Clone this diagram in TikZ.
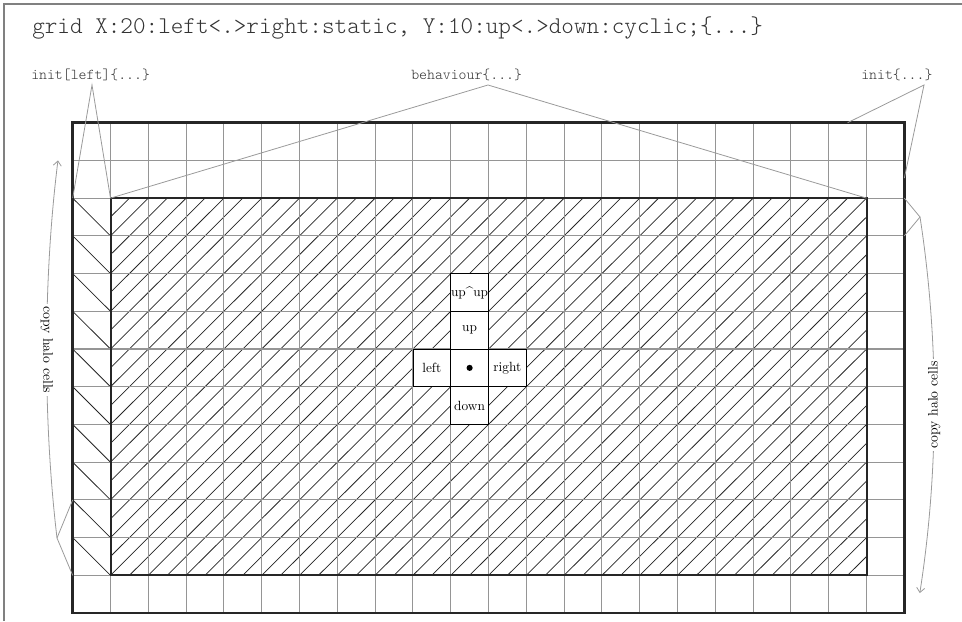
\documentclass[tikz,border=0pt]{standalone}
\usepackage{fontspec}
\newfontfamily\lightmono{Latin Modern Mono Light}
\usetikzlibrary{arrows.meta}
\definecolor{gridgray}{HTML}{959595}
\definecolor{annotgray}{HTML}{9A9A9A}
\definecolor{framegray}{HTML}{808080}
\definecolor{textgray}{HTML}{333333}
\begin{document}
\begin{tikzpicture}[x=0.75pt,y=-0.75pt,
  framestyle/.style={draw=framegray, line width=1.3pt},
  gridline/.style={draw=gridgray, line width=0.85pt},
  hatchline/.style={draw=black!85, line width=0.55pt},
  diagline/.style={draw=black!85, line width=0.6pt},
  outerborder/.style={draw=black!85, line width=1.9pt},
  innerborder/.style={draw=black!85, line width=1.5pt},
  annot/.style={draw=annotgray, line width=0.6pt},
  annotarrow/.style={annot, -{Straight Barb[length=3.5pt,width=6pt]}},
  stencilcell/.style={draw=black, line width=0.6pt, fill=white, inner sep=0pt,
    minimum width=28.35pt, minimum height=28.29pt, font=\fontsize{10}{12}\selectfont},
  copylabel/.style={fill=white, inner sep=2pt, font=\fontsize{10.3}{12}\selectfont},
  smalllabel/.style={anchor=base west, inner sep=0pt, text=textgray, font=\lightmono\fontsize{11.3}{13}\selectfont},
]
\useasboundingbox (0,0) rectangle (962,621);
% page frame
\coordinate (fbl) at (4,621);
\coordinate (ftl) at (4,4);
\coordinate (ftr) at (962,4);
\draw[framestyle] (fbl) -- (ftl) -- (ftr);
% title and labels
\node[anchor=base west, inner sep=0pt, text=textgray, font=\lightmono\fontsize{18}{20}\selectfont] (title) at (32,33)
  {grid X:20:left<.>right:static, Y:10:up<.>down:cyclic;\{...\}};
\node[smalllabel] (initleft) at (31,79) {init[left]\{...\}};
\node[smalllabel] (behav) at (411,79) {behaviour\{...\}};
\node[smalllabel] (initr) at (861,79) {init\{...\}};
% apex points
\coordinate (a1) at (92,85);
\coordinate (a2) at (488,85);
\coordinate (a3) at (924,85);
\coordinate (b1) at (57,538);
\coordinate (b2) at (920,217);
% grid
\begin{scope}[shift={(72.7,122.7)}, x=28.35pt, y=-28.29pt]
  \begin{scope}
    \clip (1,2) rectangle (21,12);
    \foreach \s in {3,3.5,...,33} \draw[hatchline] (\s-12,12) -- (\s-2,2);
  \end{scope}
  \foreach \r in {2,...,11} \draw[diagline] (0,\r) -- (1,\r+1);
  \foreach \c in {1,...,21} \draw[gridline] (\c,0) -- (\c,13);
  \foreach \r in {1,...,12} \draw[gridline] (0,\r) -- (22,\r);
  \node[stencilcell] (upup) at (10.5,4.5) {up\textasciicircum up};
  \node[stencilcell] (up) at (10.5,5.5) {up};
  \node[stencilcell] (left) at (9.5,6.5) {left};
  \node[stencilcell] (center) at (10.5,6.5) {};
  \node[stencilcell] (right) at (11.5,6.5) {right};
  \node[stencilcell] (down) at (10.5,7.5) {down};
  \fill[black] (center.center) circle (2.3pt);
  \draw[outerborder] (0,0) rectangle (22,13);
  \draw[innerborder] (1,2) rectangle (21,12);
  \coordinate (p02) at (0,2);
  \coordinate (p12) at (1,2);
  \coordinate (p212) at (21,2);
  \coordinate (p222) at (22,2);
  \coordinate (p223) at (22,3);
  \coordinate (p010) at (0,10);
  \coordinate (p012) at (0,12);
  \coordinate (pi1) at (20.5,0);
  \coordinate (pi2) at (22,1.47);
  \coordinate (tipL) at (-0.39,1.0);
  \coordinate (tipR) at (22.41,12.47);
\end{scope}
% annotation lines
\draw[annot] (p02) -- (a1) -- (p12);
\draw[annot] (p12) -- (a2) -- (p212);
\draw[annot] (pi1) -- (a3) -- (pi2);
\draw[annot] (p010) -- (b1) -- (p012);
\draw[annot] (p222) -- (b2) -- (p223);
\draw[annotarrow] (b1) .. controls (43,420) and (43,280) .. (tipL)
  node[copylabel, pos=0.5, rotate=-90] (copyL) {copy halo cells};
\draw[annotarrow] (b2) .. controls (939,340) and (939,470) .. (tipR)
  node[copylabel, pos=0.5, rotate=90] (copyR) {copy halo cells};
\end{tikzpicture}
\end{document}
